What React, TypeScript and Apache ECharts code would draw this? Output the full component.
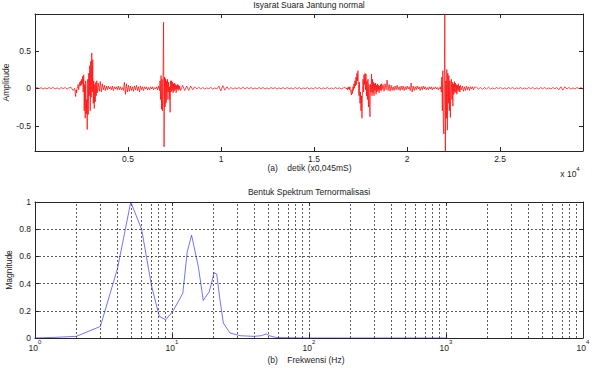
import React, { useEffect, useRef } from 'react';
import * as echarts from 'echarts';

const FONT = "'Liberation Sans', Arial, sans-serif";
const TEXT = '#222';
const BOX = '#262626';

// ---------- (a) Isyarat Suara Jantung normal ----------
// amplitude of evenly spaced samples, one array per stretch of the recording
const seg1Values = [0, 0.01, -0.005, 0.008, -0.01, 0.005, -0.008, 0.01, -0.005, 0.012, -0.01, 0.005, -0.012, 0.01, -0.005, 0.01, -0.01, 0.008, 0.01, -0.03];
const seg2Values = [0.0, -0.06, -0.11, -0.02, -0.06, 0.0, 0.02, 0.05, -0.02, 0.03, 0.08, 0.03, 0.1, 0.04, 0.12, 0.06, 0.16, -0.05, 0.18, -0.3, 0.05, -0.4, 0.1, -0.34, -0.15, -0.55, 0.12, -0.35, 0.2, -0.1, 0.3, -0.3, 0.36, -0.12, 0.47, -0.05, 0.38, -0.2, 0.1, -0.27, 0.05, -0.18, 0.08, -0.1, 0.1, -0.06];
const seg3Values = [0.07, -0.04, 0.09, -0.05, 0.06, -0.02, 0.04, -0.03, 0.03, -0.02, 0.03, -0.01, 0.02, -0.02, 0.03, -0.03, 0.02, -0.01, 0.02, -0.02, 0.03, -0.02, 0.02, -0.02, 0.01, -0.03, 0.08, -0.08, 0.06, -0.05, 0.04, -0.04, 0.03, -0.03, 0.02, -0.04, 0.03, -0.02, 0.04, -0.03, 0.02, -0.05, 0.03, -0.02, 0.02, -0.03, 0.02, -0.01, 0.02, -0.02, 0.01, -0.02, 0.02, -0.01, 0.02, -0.02, 0.01, -0.01, 0.02, -0.02, 0.03, -0.03];
const seg4Values = [0.1, -0.15, 0.17, -0.28, 0.12, -0.3, 0.15, 0.88, -0.78, 0.15, -0.25, 0.13, -0.2, 0.1, -0.15, 0.12, -0.05, 0.08, -0.15, 0.02, -0.32, 0.1, -0.05, 0.1, -0.03, 0.08, -0.06, 0.06, -0.04, 0.07, -0.02, 0.05, -0.06, 0.04, -0.01, 0.05, -0.03, 0.04, -0.02, 0.03];
const seg5Values = [-0.03, 0.04, -0.03, 0.03, -0.03, 0.03, -0.02, 0.02, -0.01, 0.015, -0.01, 0.01, -0.01, 0.005, -0.005, 0.01, -0.01, 0.005, -0.01, 0.03, -0.035, 0.035, -0.025, 0.02, -0.015, 0.01, -0.01, 0.005, -0.005, 0.01, -0.01, 0.015, -0.01, 0.01, -0.005, 0.01, -0.01, 0.005, -0.01, 0.01, -0.005, 0.01, -0.01, 0.005, -0.01, 0.01, -0.005, 0.01, -0.01, 0.005, -0.005, 0.01, -0.01, 0.01, -0.005, 0.005, -0.01, 0.01, -0.005, 0.01, -0.01, 0.005, -0.005, 0.01, -0.01, 0.005, -0.01, 0.01, -0.005, 0.01, -0.01, 0.005, -0.005, 0.01, -0.01, 0.005, -0.01, 0.01, -0.005, 0.005, -0.01, 0.005, 0.01];
const seg6Values = [-0.01, 0.005, -0.02, 0.01, -0.01, 0.02, -0.02, 0.02, -0.04, -0.06, -0.09, -0.02, -0.07, 0.02, -0.03, 0.06, 0.0, 0.1, 0.03, 0.15, 0.05, 0.2, 0.1, 0.235, 0.05, -0.1, 0.08, -0.2, -0.05, -0.3, -0.1, -0.4, -0.1, 0.12, -0.05, 0.18, 0.05, 0.2, -0.02, 0.19, -0.1, 0.1, -0.15, 0.12, -0.25, 0.05, -0.2, -0.38, 0.05, -0.05, 0.19, -0.1, 0.12, -0.06, 0.08, -0.1, 0.06, -0.03, 0.07, -0.08, 0.04, -0.05, 0.06, -0.03, 0.04, -0.06, 0.03, -0.02, 0.05, -0.04, 0.06, -0.02];
const seg7Values = [0.05, -0.04, 0.06, -0.02, 0.11, -0.03, 0.05, -0.04, 0.04, -0.03, 0.02, -0.03, 0.03, -0.02, 0.04, -0.02, 0.02, -0.03, 0.03, -0.02, 0.03, -0.03, 0.02, -0.02, 0.03, -0.01, 0.02, -0.03, 0.07, -0.05, 0.03, -0.03, 0.02, -0.02, 0.03, -0.01, 0.02, -0.03, 0.02, -0.02, 0.03, -0.01, 0.02, -0.02, 0.01, -0.02, 0.02, -0.01, 0.02, -0.02, 0.01, -0.01, 0.02, -0.01, 0.01, -0.02, 0.01, -0.01];
const seg8Values = [0.02, -0.05, 0.15, -0.3, 0.235, -0.45, -0.61, 0.05, 0.99, -0.836, 0.1, -0.4, 0.25, -0.56, 0.2, -0.2, 0.17, -0.3, 0.1, -0.39, 0.05, 0.12, -0.15, 0.08, -0.24, 0.06, -0.08, 0.09, -0.05, 0.07, -0.06, 0.05, -0.08, 0.04, -0.03, 0.06, -0.04, 0.03, -0.05, 0.04];
const seg9Values = [-0.02, 0.03, -0.04, 0.02, -0.03, 0.03, -0.02, 0.02, -0.03, 0.02, -0.01, 0.02, -0.02, 0.015];
const seg10Values = [0.015, -0.01, 0.01, -0.015, 0.01, -0.01, 0.015, -0.01, 0.005, -0.01, 0.01, -0.005, 0.01, -0.01, 0.005, -0.01, 0.01, -0.005, 0.01, -0.01, 0.005, -0.005, 0.01, -0.01, 0.005, -0.01, 0.01, -0.005, 0.01, -0.01, 0.005, -0.01, 0.01, -0.005, 0.01, -0.01, 0.005, -0.01, 0.01, -0.005, 0.01, -0.02, 0.02, -0.025, 0.02, -0.01, 0.01, -0.01, 0.005, -0.01, 0.01, -0.005, 0.01, -0.01];

// first sample index and sample spacing of each stretch
const segStarts = [0, 2133, 3402, 6723, 7830, 16740, 18711, 21816, 22923, 23733];
const segSteps = [108, 27, 54, 27, 108, 27, 54, 27, 54, 108];
const segValues = [seg1Values, seg2Values, seg3Values, seg4Values, seg5Values, seg6Values, seg7Values, seg8Values, seg9Values, seg10Values];

const signalXMax = 29460;
const signalYMin = -0.836;
const signalYMax = 0.99;
const signalXTicks = [5000, 10000, 15000, 20000, 25000];
const amplitudeTicks = [-0.5, 0, 0.5];

// ---------- (b) Bentuk Spektrum Ternormalisasi ----------
const freqHz = [1, 1.42, 2, 3, 4, 5, 6, 7.1, 8.07, 9, 10.2, 12, 12.9, 13.9, 15.6, 16.9, 18.7, 20.3, 21.2, 22.4, 23.7, 26.5, 31.4, 39.2, 45, 48.6, 51.9, 58, 100, 1000];
const magnitude = [0, 0.005, 0.012, 0.085, 0.51, 1.0, 0.8, 0.38, 0.16, 0.134, 0.2, 0.33, 0.63, 0.756, 0.52, 0.276, 0.34, 0.48, 0.47, 0.28, 0.11, 0.037, 0.017, 0.012, 0.017, 0.03, 0.015, 0.003, 0, 0];
const freqGridLines = [2, 3, 4, 5, 6, 7, 8, 9, 10, 20, 30, 40, 50, 60, 70, 80, 90, 100, 200, 300, 400, 500, 600, 700, 800, 900, 1000, 2000, 3000, 4000, 5000, 6000, 7000, 8000, 9000];

export default function App() {
  const ref = useRef<HTMLDivElement>(null);

  useEffect(() => {
    if (!ref.current) return;
    const chart = echarts.init(ref.current, null, { renderer: 'svg' });

    const signalData: number[][] = [];
    segValues.forEach((vals, s) => {
      vals.forEach((v, i) => signalData.push([segStarts[s] + i * segSteps[s], v]));
    });
    const spectrumData = freqHz.map((f, i) => [f, magnitude[i]]);

    const labelStyle = { color: TEXT, fontSize: 8.5, fontFamily: FONT };
    const boxLine = { show: true, onZero: false, lineStyle: { color: BOX, width: 1 } };
    const gridDash = { color: '#333', width: 0.8, type: [2, 2] as any };
    const pow10 = (v: number) => `{b|10}{e|${Math.round(Math.log10(v))}}`;
    const richPow = {
      b: { fontSize: 8.5, fontFamily: FONT, color: TEXT, verticalAlign: 'bottom', padding: [4, 0, 0, 0] },
      e: { fontSize: 6, fontFamily: FONT, color: TEXT, verticalAlign: 'top' },
    };
    const tick = (extra: any = {}) => ({ show: true, inside: true, length: 4, lineStyle: { color: BOX }, ...extra });

    const option: any = {
      animation: false,
      backgroundColor: '#fff',
      textStyle: { fontFamily: FONT },
      grid: [
        { left: 35, right: 12, top: 14, height: 137 },
        { left: 35, right: 12, top: 202, height: 136 },
      ],
      xAxis: [
        {
          gridIndex: 0, type: 'value', min: 0, max: signalXMax, position: 'bottom',
          axisLine: boxLine,
          axisTick: tick({ customValues: signalXTicks }),
          axisLabel: { ...labelStyle, margin: 3, customValues: signalXTicks, formatter: (v: number) => String(v / 10000) },
          splitLine: { show: false },
        },
        {
          gridIndex: 0, type: 'value', min: 0, max: signalXMax, position: 'top',
          axisLine: boxLine,
          axisTick: tick({ customValues: signalXTicks }),
          axisLabel: { show: false },
          splitLine: { show: false },
        },
        {
          gridIndex: 1, type: 'log', logBase: 10, min: 1, max: 10000, position: 'bottom',
          axisLine: boxLine,
          axisTick: tick(),
          axisLabel: { margin: 1, formatter: pow10, rich: richPow, showMinLabel: true, showMaxLabel: true },
          splitLine: { show: false },
        },
        {
          gridIndex: 1, type: 'log', logBase: 10, min: 1, max: 10000, position: 'top',
          axisLine: boxLine,
          axisTick: tick(),
          axisLabel: { show: false },
          splitLine: { show: false },
        },
      ],
      yAxis: [
        {
          gridIndex: 0, type: 'value', min: signalYMin, max: signalYMax, position: 'left',
          axisLine: boxLine,
          axisTick: tick({ customValues: amplitudeTicks }),
          axisLabel: { ...labelStyle, margin: 4, customValues: amplitudeTicks },
          splitLine: { show: false },
        },
        {
          gridIndex: 0, type: 'value', min: signalYMin, max: signalYMax, position: 'right',
          axisLine: boxLine,
          axisTick: tick({ customValues: amplitudeTicks }),
          axisLabel: { show: false },
          splitLine: { show: false },
        },
        {
          gridIndex: 1, type: 'value', min: 0, max: 1, interval: 0.2, position: 'left',
          axisLine: boxLine,
          axisTick: tick(),
          axisLabel: { ...labelStyle, margin: 4 },
          splitLine: { show: true, lineStyle: gridDash },
        },
        {
          gridIndex: 1, type: 'value', min: 0, max: 1, interval: 0.2, position: 'right',
          axisLine: boxLine,
          axisTick: tick(),
          axisLabel: { show: false },
          splitLine: { show: false },
        },
      ],
      series: [
        {
          name: 'Isyarat', type: 'line', xAxisIndex: 0, yAxisIndex: 0,
          data: signalData, showSymbol: false, symbol: 'none',
          lineStyle: { color: '#ff0000', width: 0.7 }, clip: true, z: 3,
        },
        {
          name: 'Spektrum', type: 'line', xAxisIndex: 2, yAxisIndex: 2,
          data: spectrumData, showSymbol: false, symbol: 'none',
          lineStyle: { color: '#0000ff', width: 1, opacity: 0.55 }, clip: true, z: 3,
          markLine: {
            silent: true, symbol: ['none', 'none'], label: { show: false },
            lineStyle: gridDash, emphasis: { disabled: true },
            data: freqGridLines.map((f) => ({ xAxis: f })),
          },
        },
      ],
      graphic: [
        { type: 'text', x: 309, y: 5, style: { text: 'Isyarat Suara Jantung normal', fill: TEXT, font: `8.5px ${FONT}`, align: 'center', verticalAlign: 'middle' } },
        { type: 'text', x: 309.5, y: 168, style: { text: '(a)    detik (x0,045mS)', fill: TEXT, font: `8.5px ${FONT}`, align: 'center', verticalAlign: 'middle' } },
        { type: 'text', x: 570, y: 172, style: { text: '{b|x 10}{e|4}', fill: TEXT, align: 'center', verticalAlign: 'middle', rich: richPow } },
        { type: 'text', x: 6, y: 82.5, rotation: Math.PI / 2, style: { text: 'Amplitude', fill: TEXT, font: `8.5px ${FONT}`, align: 'center', verticalAlign: 'middle' } },
        { type: 'text', x: 309, y: 192, style: { text: 'Bentuk Spektrum Ternormalisasi', fill: TEXT, font: `8.5px ${FONT}`, align: 'center', verticalAlign: 'middle' } },
        { type: 'text', x: 306, y: 360, style: { text: '(b)    Frekwensi (Hz)', fill: TEXT, font: `8.5px ${FONT}`, align: 'center', verticalAlign: 'middle' } },
        { type: 'text', x: 8.5, y: 270, rotation: Math.PI / 2, style: { text: 'Magnitude', fill: TEXT, font: `8.5px ${FONT}`, align: 'center', verticalAlign: 'middle' } },
      ],
    };

    chart.setOption(option);
    return () => chart.dispose();
  }, []);

  return <div ref={ref} style={{ position: 'absolute', left: 0, top: 0, width: 595, height: 368, background: '#fff' }} />;
}
